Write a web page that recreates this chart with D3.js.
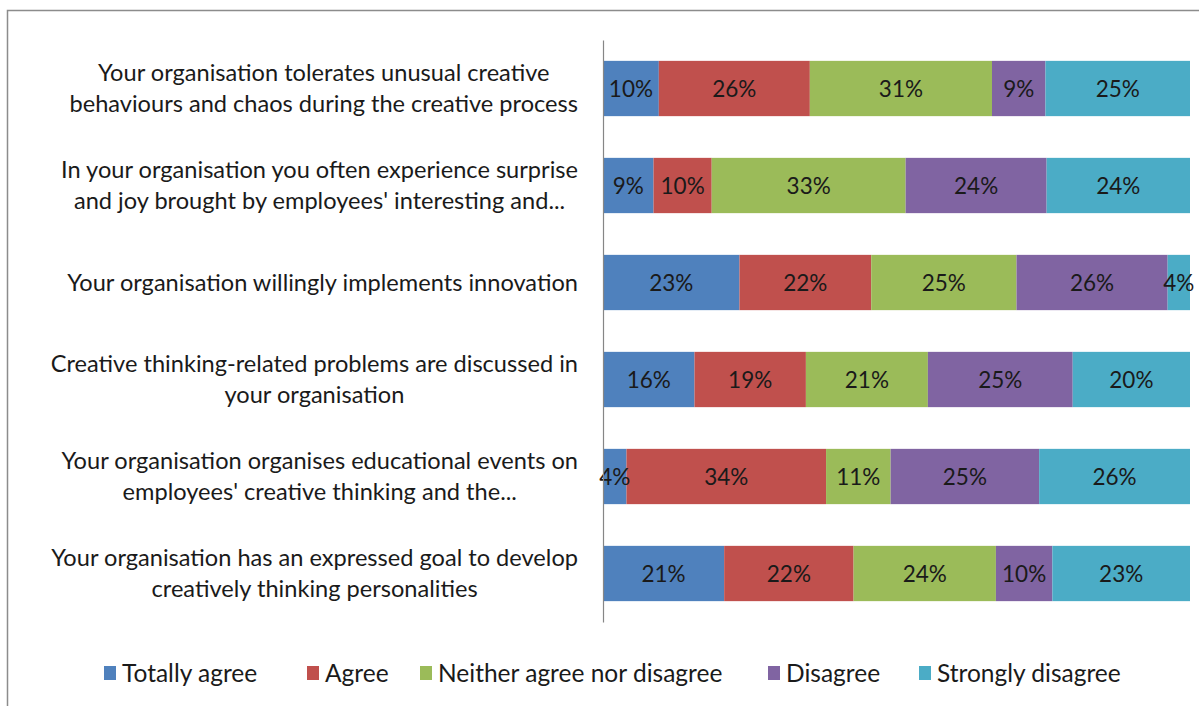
<!DOCTYPE html>
<html><head><meta charset="utf-8">
<script src="https://cdn.jsdelivr.net/npm/d3@7"></script>
<style>body{margin:0;background:#fff}text{font-family:Lato,"Open Sans",sans-serif}</style>
</head><body><svg id="c" width="1199" height="706"></svg>
<script>
const categories = [
  ["Your organisation tolerates unusual creative","behaviours and chaos during the creative process"],
  ["In your organisation you often experience surprise","and joy brought by employees' interesting and..."],
  ["Your organisation willingly implements innovation"],
  ["Creative thinking-related problems are discussed in","your organisation"],
  ["Your organisation organises educational events on","employees' creative thinking and the..."],
  ["Your organisation has an expressed goal to develop","creatively thinking personalities"]
];
const seriesNames = ["Totally agree","Agree","Neither agree nor disagree","Disagree","Strongly disagree"];
const colors = ["#4F81BD","#C0504D","#9BBB59","#8064A2","#4BACC6"];
const totallyAgree = [9.5, 8.6, 23.2, 15.6, 4.0, 20.6];
const agree        = [25.7, 9.9, 22.4, 19.0, 34.0, 22.0];
const neither      = [31.0, 33.0, 24.7, 20.8, 11.0, 24.2];
const disagree     = [9.1, 24.0, 25.7, 24.7, 25.3, 9.6];
const stronglyDis  = [24.6, 24.4, 3.8, 20.0, 25.7, 23.4];
const series = [totallyAgree, agree, neither, disagree, stronglyDis];

const svg = d3.select("#c");
svg.append("rect").attr("x",7.5).attr("y",10.5).attr("width",1200).attr("height",700)
  .attr("fill","#fff").attr("stroke","#8c8c8c").attr("stroke-width",1.5);

const pLeft = 603, pRight = 1190, pTop = 40, pBottom = 622;
const x = d3.scaleLinear().domain([0,1]).range([pLeft,pRight]);
const y = d3.scaleBand().domain(d3.range(categories.length)).range([pTop,pBottom]).paddingInner(0.43).paddingOuter(0.215);

const rows = categories.map((c,i)=>{
  const vals = series.map(s=>s[i]);
  const tot = d3.sum(vals);
  let acc = 0;
  return vals.map((v,j)=>{const r={i,j,v,x0:acc/tot,x1:(acc+v)/tot}; acc+=v; return r;});
});

const g = svg.append("g");
rows.forEach(r=>{
  g.selectAll(null).data(r).enter().append("rect")
    .attr("x",d=>x(d.x0)).attr("width",d=>x(d.x1)-x(d.x0))
    .attr("y",d=>y(d.i)).attr("height",y.bandwidth())
    .attr("fill",d=>colors[d.j]);
  g.selectAll(null).data(r).enter().append("text")
    .attr("x",d=>(x(d.x0)+x(d.x1))/2).attr("y",d=>y(d.i)+y.bandwidth()/2)
    .attr("dy","0.36em").attr("text-anchor","middle")
    .attr("font-size",22.5).attr("fill","#1a1a1a")
    .text(d=>Math.round(d.v)+"%");
});

const yAxis = d3.axisLeft(y).tickSize(0).tickFormat("");
svg.append("g").attr("transform",`translate(${pLeft},0)`).call(yAxis)
  .call(a=>a.select(".domain").attr("stroke","#868686").attr("stroke-width",1.2));

const labelRight = 578;
categories.forEach((lines,i)=>{
  const cy = y(i)+y.bandwidth()/2;
  const lh = 31;
  const t = svg.append("text").attr("text-anchor","middle").attr("font-size",23.6).attr("fill","#1a1a1a");
  const spans = lines.map((ln,k)=>t.append("tspan").attr("y",cy+(k-(lines.length-1)/2)*lh).attr("dy","0.36em").text(ln));
  const w = d3.max(spans, s=>s.node().getComputedTextLength());
  spans.forEach(s=>s.attr("x",labelRight - w/2));
});

const legX = [104, 307, 420, 768, 919];
const lg = svg.append("g");
seriesNames.forEach((n,j)=>{
  lg.append("rect").attr("x",legX[j]).attr("y",666).attr("width",12).attr("height",14).attr("fill",colors[j]);
  lg.append("text").attr("x",legX[j]+18).attr("y",673).attr("dy","0.36em").attr("font-size",24.5).attr("fill","#1a1a1a").text(n);
});
</script></body></html>
